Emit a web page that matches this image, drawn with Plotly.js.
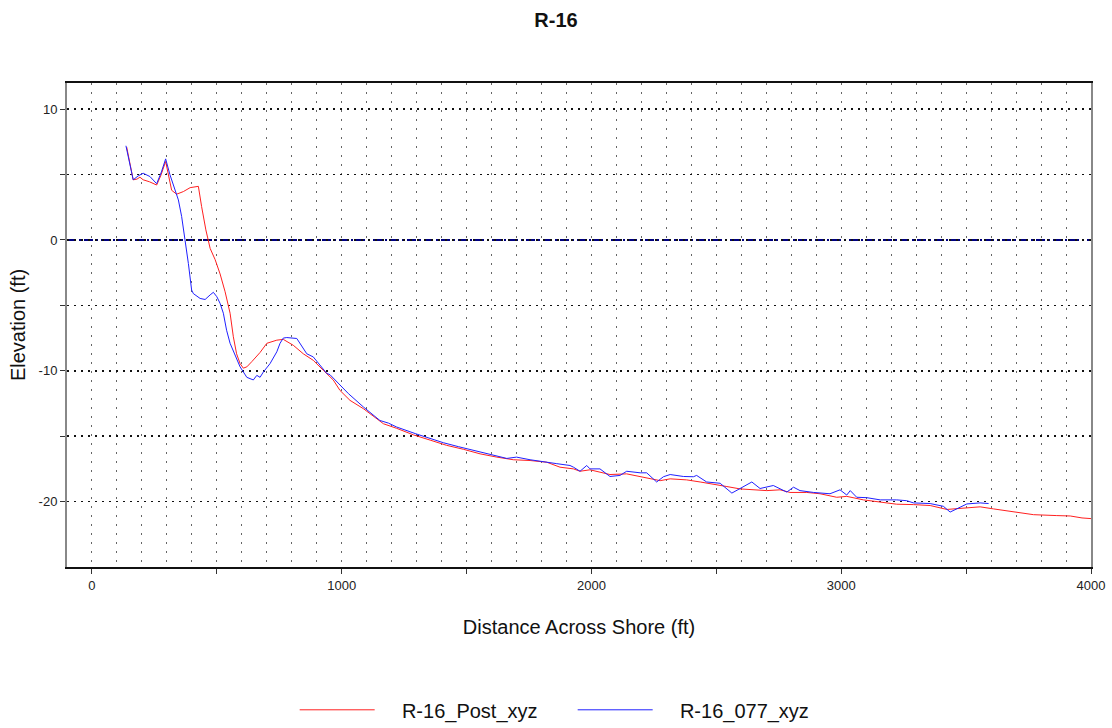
<!DOCTYPE html>
<html>
<head>
<meta charset="utf-8">
<script src="https://cdn.plot.ly/plotly-3.0.1.min.js"></script>
<style>html,body{margin:0;padding:0;background:#fff;}#chart{width:1112px;height:728px;}</style>
</head>
<body>
<div id="chart"></div>
<script>
const chartTitle = "R-16";
const xTitle = "Distance Across Shore (ft)";
const yTitle = "Elevation (ft)";
const seriesNames = ["R-16_Post_xyz", "R-16_077_xyz"];

const postX = [139,150,165,180,192,205,230,259,275,295,306,319,339,366,393,419,426,439,456,473,493,513,533,553,566,579,593,606,620,640,673,700,740,766,806,846,886,926,953,966,993,1033,1087,1127,1167,1220,1287,1354,1420,1487,1554,1621,1687,1754,1821,1874,1928,1954,1994,2034,2074,2141,2195,2248,2275,2315,2381,2435,2488,2542,2595,2648,2702,2755,2795,2862,2915,2982,3022,3089,3156,3222,3289,3356,3423,3463,3503,3556,3610,3663,3716,3770,3863,3917,3964,3991,4000];
const postY = [7.1,6.0,4.6,4.65,4.8,4.6,4.45,4.2,4.9,6.0,5.1,3.8,3.5,3.7,4.0,4.1,4.1,2.55,0.77,-0.64,-1.5,-2.6,-3.96,-5.6,-7.4,-8.7,-9.45,-9.8,-9.7,-9.3,-8.6,-7.9,-7.66,-7.6,-8.05,-8.7,-9.2,-9.96,-10.5,-10.7,-11.5,-12.26,-12.9,-13.5,-14.05,-14.4,-14.9,-15.3,-15.7,-16.0,-16.35,-16.6,-16.8,-16.86,-16.99,-17.37,-17.5,-17.68,-17.57,-17.75,-17.93,-17.88,-18.08,-18.26,-18.4,-18.26,-18.34,-18.5,-18.65,-18.85,-19.03,-19.1,-19.16,-19.1,-19.3,-19.3,-19.4,-19.67,-19.6,-19.87,-20.04,-20.2,-20.23,-20.3,-20.6,-20.55,-20.48,-20.4,-20.56,-20.7,-20.8,-21.0,-21.07,-21.1,-21.25,-21.33,-21.3];

const preX = [136,150,165,185,205,232,259,278,295,312,332,346,359,372,386,399,406,433,453,473,486,500,513,526,539,553,573,593,620,646,660,673,686,713,740,753,766,780,820,833,860,886,913,940,953,993,1027,1087,1153,1187,1220,1294,1354,1407,1467,1554,1621,1661,1700,1754,1861,1914,1928,1954,1981,1994,2034,2074,2114,2141,2195,2221,2261,2288,2315,2368,2408,2421,2461,2515,2562,2595,2642,2675,2728,2782,2809,2835,2889,2955,2995,3022,3036,3062,3102,3156,3222,3262,3289,3356,3409,3436,3463,3503,3556,3590];
const preY = [7.2,5.9,4.6,4.9,5.1,4.85,4.3,5.2,6.2,5.0,3.8,3.06,1.8,0.2,-1.8,-3.83,-4.1,-4.47,-4.55,-4.2,-4.0,-4.34,-4.85,-5.6,-6.9,-7.9,-8.8,-9.7,-10.5,-10.7,-10.35,-10.5,-10.1,-9.45,-8.55,-7.9,-7.5,-7.46,-7.53,-7.9,-8.7,-8.94,-9.58,-10.2,-10.3,-11.1,-11.75,-12.77,-13.8,-14.0,-14.3,-14.8,-15.2,-15.5,-15.8,-16.2,-16.5,-16.7,-16.6,-16.8,-17.1,-17.24,-17.37,-17.68,-17.24,-17.5,-17.5,-18.08,-18.0,-17.68,-17.8,-17.8,-18.5,-18.1,-17.93,-18.08,-18.1,-18.0,-18.5,-18.6,-19.35,-19.0,-18.5,-19.0,-18.77,-19.27,-18.9,-19.16,-19.3,-19.4,-19.1,-19.5,-19.16,-19.67,-19.7,-19.87,-19.87,-19.93,-20.1,-20.15,-20.36,-20.8,-20.55,-20.18,-20.1,-20.15];

const xTickVals = [0,500,1000,1500,2000,2500,3000,3500,4000];
const xTickText = ["0","","1000","","2000","","3000","","4000"];
const yTickVals = [-20,-15,-10,-5,0,5,10];
const yTickText = ["-20","","-10","","0","","10"];

const font = "Liberation Sans, Arial, sans-serif";
const pad = "\u00a0\u00a0\u00a0\u00a0";

const traces = [
  {x: postX, y: postY, name: pad + seriesNames[0], type: "scatter", mode: "lines", line: {color: "#ff2020", width: 1}},
  {x: preX, y: preY, name: pad + seriesNames[1], type: "scatter", mode: "lines", line: {color: "#2020ff", width: 1}}
];

const layout = {
  width: 1112, height: 728,
  paper_bgcolor: "#ffffff", plot_bgcolor: "#ffffff",
  margin: {l: 67, r: 21, t: 83, b: 161},
  font: {family: font, color: "#111"},
  title: {text: "<b>" + chartTitle + "</b>", x: 0.5, xref: "container", xanchor: "center", y: 0.972, yref: "container", yanchor: "middle", font: {size: 20, family: font, color: "#111"}},
  showlegend: true,
  legend: {orientation: "h", x: 0.265, xref: "container", xanchor: "left", y: 0.025, yref: "container", yanchor: "middle", font: {size: 20, family: font, color: "#111"}, itemwidth: 75, entrywidth: 188, traceorder: "normal"},
  xaxis: {
    range: [-100, 4000], tickvals: xTickVals, ticktext: xTickText,
    ticks: "outside", ticklen: 5, tickcolor: "#333", tickfont: {size: 13, color: "#222"},
    showline: true, linecolor: "#111", linewidth: 2, mirror: true,
    showgrid: true, gridcolor: "#666", griddash: "2px,7px", gridwidth: 1,
    minor: {dtick: 100, showgrid: true, gridcolor: "#666", griddash: "2px,7px", gridwidth: 1, ticks: ""},
    zeroline: false,
    title: {text: xTitle, font: {size: 20, family: font, color: "#111"}, standoff: 28}
  },
  yaxis: {
    range: [-25, 12], tickvals: yTickVals, ticktext: yTickText,
    ticks: "outside", ticklen: 5, tickcolor: "#333", tickfont: {size: 13, color: "#222"},
    showline: true, linecolor: "#888", linewidth: 2, mirror: true,
    showgrid: true, gridcolor: "#111", griddash: "2px,5px", gridwidth: 1.5,
    zeroline: false,
    title: {text: yTitle, font: {size: 20, family: font, color: "#111"}, standoff: 8}
  },
  shapes: [
    {type: "line", xref: "paper", x0: 0, x1: 1, yref: "y", y0: 0, y1: 0, line: {color: "#000080", width: 2, dash: "9px,3px,2px,3px"}, layer: "below"}
  ]
};

Plotly.newPlot("chart", traces, layout, {displayModeBar: false, staticPlot: true});
</script>
</body>
</html>
